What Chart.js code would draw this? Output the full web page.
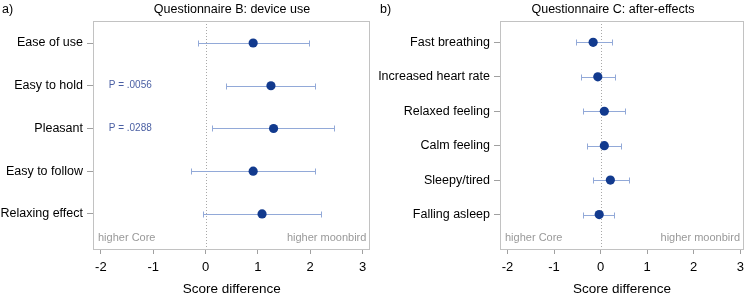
<!DOCTYPE html>
<html>
<head>
<meta charset="utf-8">
<script src="https://cdn.jsdelivr.net/npm/chart.js@4"></script>
<style>
body { margin:0; width:750px; height:295px; background:#fff; position:relative; overflow:hidden;
  font-family:"Liberation Sans", Arial, sans-serif; }
.panel { position:absolute; top:0; width:375px; height:295px; }
.txt { position:absolute; font-size:12.5px; color:#000; white-space:nowrap; line-height:1; }
</style>
</head>
<body>
<div class="panel" style="left:0"><canvas id="chartB" width="375" height="295"></canvas></div>
<div class="panel" style="left:375px"><canvas id="chartC" width="375" height="295"></canvas></div>
<div class="txt" style="left:2px;top:3px">a)</div>
<div class="txt" style="left:380px;top:3px">b)</div>
<div class="txt" style="left:232px;top:3px;transform:translateX(-50%)">Questionnaire B: device use</div>
<div class="txt" style="left:613px;top:3px;transform:translateX(-50%)">Questionnaire C: after-effects</div>
<script>
// Questionnaire B: device use
var itemsB = ["Ease of use", "Easy to hold", "Pleasant", "Easy to follow", "Relaxing effect"];
var meanB = [0.91, 1.25, 1.30, 0.91, 1.08];
var lowB = [-0.15, 0.39, 0.13, -0.27, -0.05];
var highB = [1.98, 2.10, 2.46, 2.09, 2.21];
var pB = ["", "P = .0056", "P = .0288", "", ""];

// Questionnaire C: after-effects
var itemsC = ["Fast breathing", "Increased heart rate", "Relaxed feeling", "Calm feeling", "Sleepy/tired", "Falling asleep"];
var meanC = [-0.16, -0.06, 0.08, 0.08, 0.21, -0.03];
var lowC = [-0.53, -0.42, -0.37, -0.29, -0.16, -0.38];
var highC = [0.24, 0.30, 0.53, 0.44, 0.60, 0.29];
var pC = ["", "", "", "", "", ""];

var xTicks = [-2, -1, 0, 1, 2, 3];

// error bars, zero line, frame and notes
var forestPlugin = {
  id: "forest",
  beforeDatasetsDraw: function (chart, args, opts) {
    var ctx = chart.ctx, xs = chart.scales.x, ys = chart.scales.y, a = chart.chartArea;
    ctx.save();
    // dotted line at zero
    ctx.strokeStyle = "#a8a8a8";
    ctx.lineWidth = 1;
    ctx.setLineDash([1, 2]);
    var x0 = Math.round(xs.getPixelForValue(0)) + 0.5;
    ctx.beginPath();
    ctx.moveTo(x0, a.top);
    ctx.lineTo(x0, a.bottom);
    ctx.stroke();
    ctx.setLineDash([]);
    // CIs
    ctx.strokeStyle = "#92a9d8";
    for (var i = 0; i < opts.low.length; i++) {
      var y = Math.round(ys.getPixelForValue(i)) + 0.5;
      var xl = Math.round(xs.getPixelForValue(opts.low[i])) + 0.5;
      var xh = Math.round(xs.getPixelForValue(opts.high[i])) + 0.5;
      ctx.beginPath();
      ctx.moveTo(xl, y); ctx.lineTo(xh, y);
      ctx.moveTo(xl, y - 3); ctx.lineTo(xl, y + 3);
      ctx.moveTo(xh, y - 3); ctx.lineTo(xh, y + 3);
      ctx.stroke();
    }
    ctx.restore();
  },
  afterDraw: function (chart, args, opts) {
    var ctx = chart.ctx, xs = chart.scales.x, ys = chart.scales.y, a = chart.chartArea;
    ctx.save();
    ctx.strokeStyle = "#c2c2c2";
    ctx.lineWidth = 1;
    ctx.strokeRect(Math.round(a.left) + 0.5, Math.round(a.top) + 0.5,
      Math.round(a.right - a.left) - 1, Math.round(a.bottom - a.top));
    ctx.font = "11px 'Liberation Sans', Arial, sans-serif";
    ctx.fillStyle = "#999999";
    ctx.textBaseline = "middle";
    ctx.textAlign = "left";
    ctx.fillText("higher Core", a.left + 5, a.bottom - 11);
    ctx.textAlign = "right";
    ctx.fillText("higher moonbird", a.right - 4, a.bottom - 11);
    ctx.font = "10px 'Liberation Sans', Arial, sans-serif";
    ctx.fillStyle = "#4a5fa3";
    ctx.textAlign = "left";
    for (var i = 0; i < opts.notes.length; i++) {
      if (opts.notes[i]) {
        ctx.fillText(opts.notes[i], xs.getPixelForValue(-1.85), ys.getPixelForValue(i));
      }
    }
    ctx.restore();
  }
};

function makeChart(id, items, mean, low, high, notes, yMin, yMax, xMin, xMax, yWidth, padRight) {
  var ctx = document.getElementById(id).getContext("2d");
  return new Chart(ctx, {
    type: "scatter",
    data: {
      datasets: [{
        data: mean.map(function (m, i) { return { x: m, y: i }; }),
        pointRadius: 4.6,
        pointHoverRadius: 4.6,
        backgroundColor: "#123a8e",
        borderWidth: 0
      }]
    },
    options: {
      responsive: false,
      animation: false,
      devicePixelRatio: 1,
      layout: { padding: { top: 21, right: padRight, left: 0, bottom: 0 } },
      plugins: {
        legend: { display: false },
        tooltip: { enabled: false },
        forest: { low: low, high: high, notes: notes }
      },
      scales: {
        x: {
          type: "linear",
          min: xMin,
          max: xMax,
          afterBuildTicks: function (s) { s.ticks = xTicks.map(function (v) { return { value: v }; }); },
          afterFit: function (s) { s.height = 46; },
          ticks: { autoSkip: false, maxRotation: 0, color: "#000", padding: 6,
            font: { family: "'Liberation Sans', Arial, sans-serif", size: 13 } },
          grid: { drawOnChartArea: false, drawTicks: true, tickLength: 5, color: "#a0a0a0" },
          border: { display: false },
          title: { display: true, text: "Score difference", color: "#000", padding: 0,
            font: { family: "'Liberation Sans', Arial, sans-serif", size: 13.5, lineHeight: 0.8 } }
        },
        y: {
          type: "linear",
          reverse: true,
          min: yMin,
          max: yMax,
          afterBuildTicks: function (s) { s.ticks = items.map(function (c, i) { return { value: i }; }); },
          afterFit: function (s) { s.width = yWidth; },
          ticks: { autoSkip: false, color: "#000", padding: 4,
            callback: function (v) { return items[v]; },
            font: { family: "'Liberation Sans', Arial, sans-serif", size: 12.5 } },
          grid: { drawOnChartArea: false, drawTicks: true, tickLength: 6, color: "#a0a0a0" },
          border: { display: false }
        }
      }
    },
    plugins: [forestPlugin]
  });
}

makeChart("chartB", itemsB, meanB, lowB, highB, pB, -0.515, 4.82, -2.15, 3.15, 93, 4);
makeChart("chartC", itemsC, meanC, lowC, highC, pC, -0.62, 6.0, -2.16, 3.08, 125, 5);
</script>
</body>
</html>
